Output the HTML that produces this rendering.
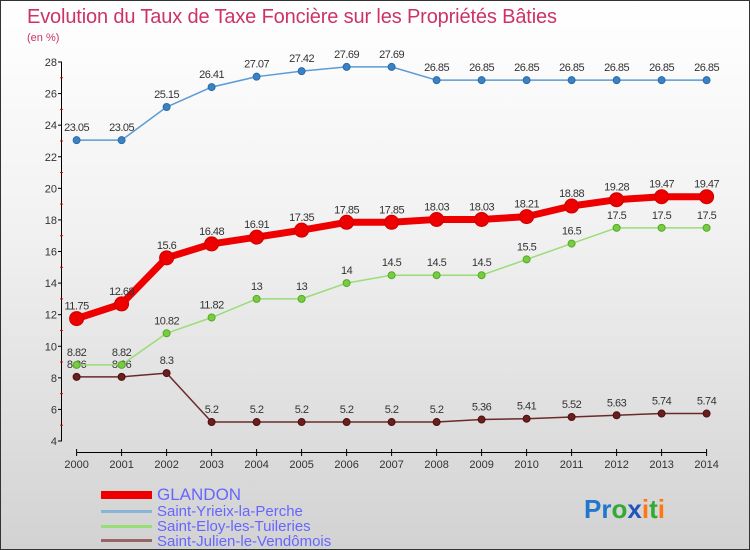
<!DOCTYPE html>
<html><head><meta charset="utf-8"><style>
body{margin:0;}
#c{width:750px;height:550px;position:relative;box-sizing:border-box;border:1px solid #333;background:linear-gradient(#ffffff,#f2f2f2 40%,#d2d2d2);font-family:"Liberation Sans",sans-serif;overflow:hidden}
text{font-family:"Liberation Sans",sans-serif}
</style></head><body>
<div id="c">
<svg id="s" width="750" height="550">
<text x="26" y="22" font-size="20" fill="#cc3366" textLength="530">Evolution du Taux de Taxe Foncière sur les Propriétés Bâties</text>
<text x="26" y="40" font-size="11" fill="#cc3366">(en %)</text>
<g id="axes"></g><g id="series"></g>
<g>
<rect x="100" y="490" width="51" height="8" fill="#ee0000"/>
<text x="156" y="499" font-size="17" fill="#6666ff">GLANDON</text>
<rect x="100" y="509" width="51" height="3" fill="#88b4d6"/>
<text x="156" y="515" font-size="15" fill="#6666ff">Saint-Yrieix-la-Perche</text>
<rect x="100" y="524" width="51" height="3" fill="#99dd77"/>
<text x="156" y="530" font-size="15" fill="#6666ff">Saint-Eloy-les-Tuileries</text>
<rect x="100" y="538" width="51" height="3" fill="#996666"/>
<text x="156" y="545" font-size="15" fill="#6666ff">Saint-Julien-le-Vendômois</text>
</g>
<g font-size="26" font-weight="bold">
<text x="583" y="517"><tspan fill="#2277cc">Pr</tspan><tspan fill="#33aa33">o</tspan><tspan fill="#2255bb">x</tspan><tspan fill="#ff7711">i</tspan><tspan fill="#33aa33">t</tspan><tspan fill="#ff7711">i</tspan></text>
</g>
</svg>
</div>
<script>
const years=[2000,2001,2002,2003,2004,2005,2006,2007,2008,2009,2010,2011,2012,2013,2014];
const yTicks=[4,6,8,10,12,14,16,18,20,22,24,26,28];
const glandon=[11.75,12.68,15.6,16.48,16.91,17.35,17.85,17.85,18.03,18.03,18.21,18.88,19.28,19.47,19.47];
const yrieix=[23.05,23.05,25.15,26.41,27.07,27.42,27.69,27.69,26.85,26.85,26.85,26.85,26.85,26.85,26.85];
const eloy=[8.82,8.82,10.82,11.82,13,13,14,14.5,14.5,14.5,15.5,16.5,17.5,17.5,17.5];
const julien=[8.06,8.06,8.3,5.2,5.2,5.2,5.2,5.2,5.2,5.36,5.41,5.52,5.63,5.74,5.74];
const NS="http://www.w3.org/2000/svg";
const X=i=>75.6+i*45.0;
const Y=v=>440-(v-4)*(379/24);
function mk(t,a,p){const e=document.createElementNS(NS,t);for(const k in a)e.setAttribute(k,a[k]);p.appendChild(e);return e;}
const ax=document.getElementById('axes'),se=document.getElementById('series');
let e=mk('line',{x1:60.5,y1:Y(28),x2:60.5,y2:Y(4),stroke:'#000'},ax);


yTicks.forEach(v=>{
 mk('line',{x1:57,x2:61,y1:Y(v),y2:Y(v),stroke:'#000'},ax);
 const t=mk('text',{x:56,y:Y(v)+4,'font-size':11,'text-anchor':'end',fill:'#333'},ax);
 t.textContent=v;
 
 
 if(v<28)mk('line',{x1:59,x2:62,y1:Y(v+1),y2:Y(v+1),stroke:'#e00'},ax);
});
e=mk('line',{x1:X(0),x2:X(14),y1:451.5,y2:451.5,stroke:'#000'},ax);


years.forEach((y,i)=>{
 mk('line',{x1:X(i),x2:X(i),y1:448,y2:455,stroke:'#000'},ax);
 const t=mk('text',{x:X(i),y:467,'font-size':11,'text-anchor':'middle',fill:'#333'},ax);
 t.textContent=y;
 
 
});
function draw(vals,name,col,lw,r,dot,stroke){
 const g=mk('g',{},se);
 
 
 const p=mk('polyline',{points:vals.map((v,i)=>X(i)+','+Y(v)).join(' '),fill:'none',stroke:col,'stroke-width':lw,'stroke-linejoin':'round'},g);
 
 
 vals.forEach((v,i)=>{
  const c=mk('circle',{cx:X(i),cy:Y(v),r:r,fill:dot,stroke:stroke,'stroke-width':1},g);
  
  
  const t=mk('text',{x:X(i),y:Y(v)-9,'font-size':11,'text-anchor':'middle',fill:'#333','letter-spacing':'-0.5'},g);
  t.textContent=v;
  
  
 });
}
draw(yrieix,'saint-yrieix','#5b9bd5',1.5,3.5,'#3b82c4','#2a6aa8');
draw(julien,'saint-julien','#6b2a2a',1.5,3.5,'#6b1e1e','#4a1010');
draw(eloy,'saint-eloy','#99dd77',1.5,3.5,'#77cc44','#55aa22');
draw(glandon,'glandon','#ee0000',7,7,'#ee0000','#cc0000');
</script>
</body></html>
